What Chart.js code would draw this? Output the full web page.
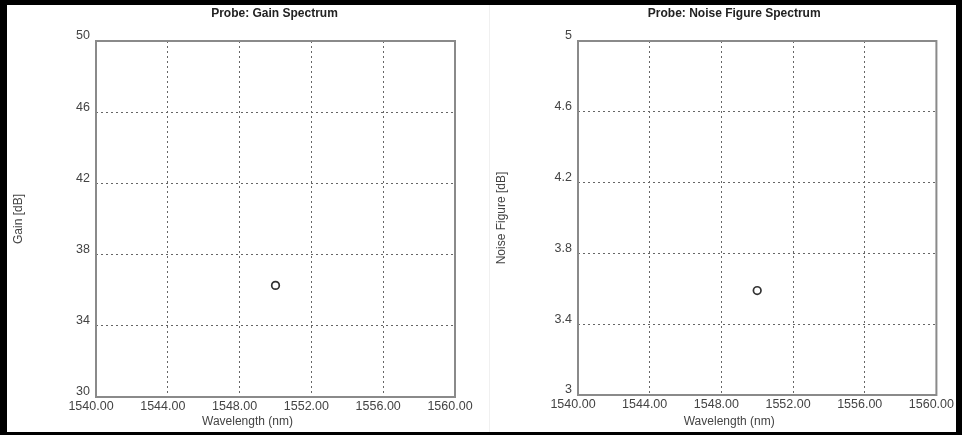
<!DOCTYPE html>
<html>
<head>
<meta charset="utf-8">
<script src="https://cdn.jsdelivr.net/npm/chart.js@4/dist/chart.umd.min.js"></script>
<style>
  html, body { margin: 0; padding: 0; background: #000; }
  #frame { position: absolute; left: 7px; top: 5px; width: 949px; height: 427px; background: #fff; }
  .box { position: absolute; top: 0; height: 427px; }
  #gainBox { left: 0; width: 473px; }
  #noiseBox { left: 473px; width: 481px; }
  #sep { position: absolute; left: 482px; top: 0; width: 1px; height: 427px; background: #f0f0f0; }
</style>
</head>
<body>
<div id="frame">
  <div id="sep"></div>
  <div class="box" id="gainBox"><canvas id="gainchart"></canvas></div>
  <div class="box" id="noiseBox"><canvas id="noisechart"></canvas></div>
</div>
<script>
// probe readings
const wavelengths = [1550.0];
const gainValues = [36.27];
const noiseValues = [3.59];

// tick labels
const wavelengthTicks = [1540, 1544, 1548, 1552, 1556, 1560];
const gainTicks = [30, 34, 38, 42, 46, 50];
const noiseTicks = [3, 3.4, 3.8, 4.2, 4.6, 5];

const FONT = "'Liberation Sans', Arial, sans-serif";
Chart.defaults.font.family = FONT;
Chart.defaults.color = '#444';

// plot frame + top/bottom captions
const framePlugin = {
    id: 'frameText',
    afterDraw(chart, args, opts) {
        const { ctx, chartArea: a } = chart;
        ctx.save();
        ctx.strokeStyle = '#8a8a8a';
        ctx.lineWidth = 2;
        ctx.strokeRect(a.left, a.top, a.right - a.left, a.bottom - a.top);
        const cx = (a.left + a.right) / 2;
        ctx.textAlign = 'center';
        ctx.textBaseline = 'middle';
        ctx.fillStyle = '#222';
        ctx.font = 'bold 12px ' + FONT;
        ctx.fillText(opts.title, cx + opts.titleDx, 9);
        ctx.fillStyle = '#444';
        ctx.font = '12px ' + FONT;
        ctx.fillText(opts.xTitle, cx + opts.xTitleDx, 417);
        ctx.restore();
    }
};

function makeChart(id, values, yTicks, yTitle, cfg) {
    return new Chart(id, {
        type: 'scatter',
        data: {
            datasets: [{
                data: wavelengths.map((x, i) => ({ x: x, y: values[i] })),
                pointStyle: 'circle',
                pointRadius: 3.8,
                pointBorderWidth: 1.7,
                borderColor: '#333',
                backgroundColor: '#fff'
            }]
        },
        options: {
            animation: false,
            responsive: true,
            maintainAspectRatio: false,
            layout: { padding: { left: cfg.padLeft, top: 36, right: cfg.padRight, bottom: 0 } },
            plugins: {
                legend: { display: false },
                tooltip: { enabled: false },
                frameText: { title: cfg.title, titleDx: cfg.titleDx, xTitle: 'Wavelength (nm)', xTitleDx: -28 }
            },
            scales: {
                x: {
                    type: 'linear',
                    min: 1540,
                    max: 1560,
                    afterBuildTicks: s => { s.ticks = wavelengthTicks.map(v => ({ value: v })); },
                    afterFit: s => { s.height = cfg.xHeight; },
                    grid: { color: '#666', lineWidth: 1, drawTicks: false },
                    border: { display: false, dash: [2, 3] },
                    ticks: {
                        padding: 2,
                        labelOffset: -5,
                        maxRotation: 0,
                        font: { size: 12.5 },
                        color: '#444',
                        callback: v => v.toFixed(2)
                    }
                },
                y: {
                    min: yTicks[0],
                    max: yTicks[yTicks.length - 1],
                    afterBuildTicks: s => { s.ticks = yTicks.map(v => ({ value: v })); },
                    afterFit: s => { s.width = cfg.yWidth; },
                    grid: { color: '#666', lineWidth: 1, drawTicks: false },
                    border: { display: false, dash: [2, 3] },
                    title: { display: true, text: yTitle, color: '#444', font: { size: 12 }, padding: { top: 4, bottom: 0 } },
                    ticks: {
                        padding: 6,
                        labelOffset: -5,
                        font: { size: 12.5 },
                        color: '#444',
                        callback: v => String(+v.toFixed(1))
                    }
                }
            }
        },
        plugins: [framePlugin]
    });
}

var gain = makeChart('gainchart', gainValues, gainTicks, 'Gain [dB]', {
    title: 'Probe: Gain Spectrum', titleDx: -1,
    padLeft: 0, padRight: 25, yWidth: 89, xHeight: 35
});

var noise = makeChart('noisechart', noiseValues, noiseTicks, 'Noise Figure [dB]', {
    title: 'Probe: Noise Figure Spectrum', titleDx: -23,
    padLeft: 10, padRight: 15, yWidth: 88, xHeight: 37
});
</script>
</body>
</html>
